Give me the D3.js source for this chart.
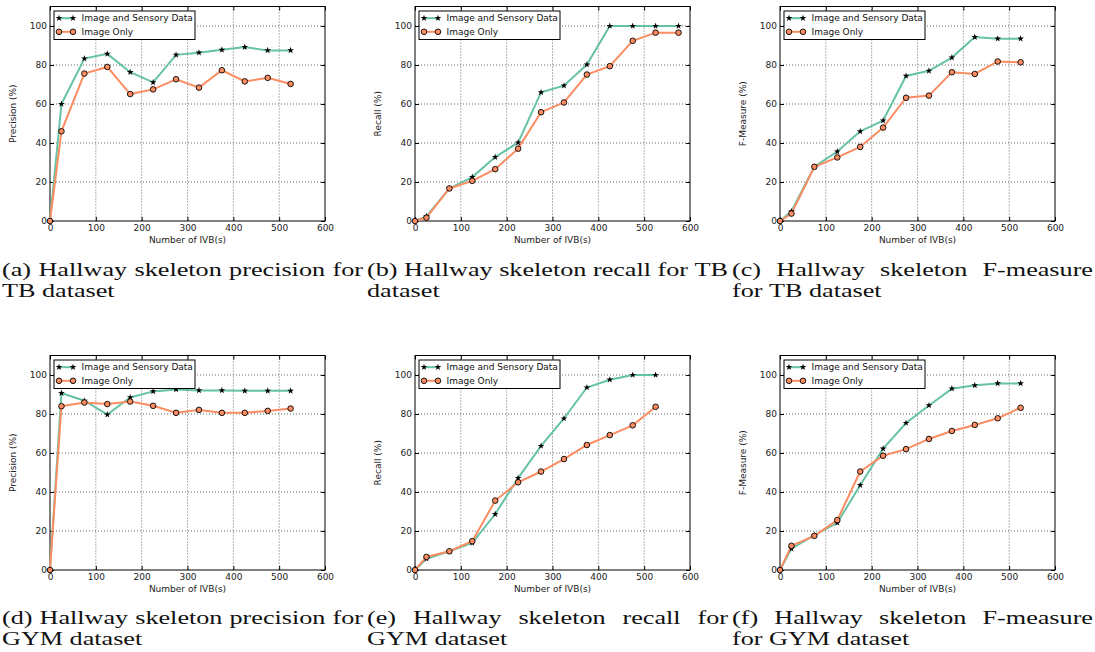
<!DOCTYPE html>
<html><head><meta charset="utf-8">
<script src="https://cdn.jsdelivr.net/npm/d3@7"></script>
<style>body{margin:0;background:#fff}svg{display:block}</style></head>
<body>
<svg id="c" width="1095" height="652"></svg>
<script>
// ---------- data ----------
const ivb = [0,25,75,125,175,225,275,325,375,425,475,525];
const ivbRecallTB = [0,25,75,125,175,225,275,325,375,425,475,525,575];
const xTicks = [0,100,200,300,400,500,600];
const yTicks = [0,20,40,60,80,100];
const seriesNames = ["Image and Sensory Data","Image Only"];

const tbPrecisionSensory = [0,60.0,83.3,85.7,76.3,71.1,85.2,86.3,87.8,89.2,87.5,87.5];
const tbPrecisionImage   = [0,46.0,75.6,79.0,65.1,67.5,72.7,68.4,77.3,71.6,73.4,70.3];
const tbRecallSensory    = [0,2.4,16.7,22.5,32.8,40.2,66.0,69.4,80.2,100,100,100,100];
const tbRecallImage      = [0,1.7,16.7,20.6,26.6,37.1,55.8,60.8,75.1,79.4,92.4,96.6,96.6];
const tbFSensory         = [0,5.0,27.8,35.6,46.0,51.5,74.4,77.0,83.8,94.3,93.5,93.5];
const tbFImage           = [0,3.8,27.8,32.6,38.0,47.9,63.2,64.3,76.3,75.4,81.8,81.4];
const gymPrecisionSensory= [0,90.7,86.8,79.7,88.5,91.6,92.6,92.1,92.1,91.9,91.9,91.9];
const gymPrecisionImage  = [0,84.0,85.9,85.1,86.4,84.2,80.6,82.1,80.6,80.6,81.6,82.8];
const gymRecallSensory   = [0,5.8,9.6,13.9,28.7,47.1,63.6,77.7,93.6,97.6,100,100];
const gymRecallImage     = [0,6.7,9.6,14.8,35.6,45.0,50.5,56.9,64.1,69.2,74.2,83.7];
const gymFSensory        = [0,11.0,17.9,24.2,43.5,62.2,75.4,84.4,93.0,94.7,95.7,95.7];
const gymFImage          = [0,12.4,17.5,25.6,50.5,58.6,62.0,67.2,71.3,74.4,77.8,83.2];

const yLabels = ["Precision (%)","Recall (%)","F-Measure (%)"];
const xLabel = "Number of IVB(s)";
const captions = [
  ["(a) Hallway skeleton precision for","TB dataset"],
  ["(b) Hallway skeleton recall for TB","dataset"],
  ["(c) Hallway skeleton F-measure","for TB dataset"],
  ["(d) Hallway skeleton precision for","GYM dataset"],
  ["(e) Hallway skeleton recall for","GYM dataset"],
  ["(f) Hallway skeleton F-measure","for GYM dataset"]
];

const panels = [
  {x: ivb, a: tbPrecisionSensory, b: tbPrecisionImage, yl: yLabels[0]},
  {x: ivbRecallTB, a: tbRecallSensory, b: tbRecallImage, yl: yLabels[1]},
  {x: ivb, a: tbFSensory, b: tbFImage, yl: yLabels[2]},
  {x: ivb, a: gymPrecisionSensory, b: gymPrecisionImage, yl: yLabels[0]},
  {x: ivb, a: gymRecallSensory, b: gymRecallImage, yl: yLabels[1]},
  {x: ivb, a: gymFSensory, b: gymFImage, yl: yLabels[2]}
];

// ---------- layout ----------
const colLeft = [50,415,780], plotW = 275;
const rowTop = [6.5,355.5], rowBot = [221,570];
const capLeft = [2,367,732], capW = 361;
const capBase = [[276,297],[624,645]];
const green = "#66c2a5", orange = "#fc8d62";
const sansFont = "DejaVu Sans, sans-serif";
const serifFont = "'Liberation Serif', serif";
const capFs = 19, capGap = 6.5;

const svg = d3.select("#c");

// horizontal stretch so the fullest caption line sets naturally (as in the reference)
const probe = svg.append("text").attr("font-family",serifFont).attr("font-size",capFs);
const refWords = captions[1][0].split(" ");
const refTotal = d3.sum(refWords, w => { probe.text(w); return probe.node().getComputedTextLength(); });
probe.remove();
const stretch = (capW - capGap * (refWords.length - 1)) / refTotal;

panels.forEach((p, i) => {
  const col = i % 3, row = Math.floor(i / 3);
  const L = colLeft[col], R = L + plotW, T = rowTop[row], B = rowBot[row];
  const x = d3.scaleLinear().domain([0,600]).range([L,R]);
  const y = d3.scaleLinear().domain([0,110]).range([B,T]);
  const g = svg.append("g");

  // grid
  g.append("g").selectAll("line").data(xTicks.filter(v => v>0 && v<600)).join("line")
    .attr("x1", d=>x(d)).attr("x2", d=>x(d)).attr("y1", T).attr("y2", B)
    .attr("stroke","#000").attr("stroke-width",0.6).attr("stroke-dasharray","1,2");
  g.append("g").selectAll("line").data(yTicks.filter(v => v>0)).join("line")
    .attr("y1", d=>y(d)).attr("y2", d=>y(d)).attr("x1", L).attr("x2", R)
    .attr("stroke","#000").attr("stroke-width",0.6).attr("stroke-dasharray","1,2");

  // axes (ticks inward, on all sides)
  const axB = g.append("g").attr("transform",`translate(0,${B})`)
    .call(d3.axisBottom(x).tickValues(xTicks).tickSize(-4).tickPadding(4).tickFormat(d3.format("d")));
  const axT = g.append("g").attr("transform",`translate(0,${T})`)
    .call(d3.axisTop(x).tickValues(xTicks).tickSize(-4).tickFormat(""));
  const axL = g.append("g").attr("transform",`translate(${L},0)`)
    .call(d3.axisLeft(y).tickValues(yTicks).tickSize(-4).tickPadding(3).tickFormat(d3.format("d")));
  const axR = g.append("g").attr("transform",`translate(${R},0)`)
    .call(d3.axisRight(y).tickValues(yTicks).tickSize(-4).tickFormat(""));
  [axB,axT,axL,axR].forEach(a => {
    a.select(".domain").remove();
    a.selectAll("text").attr("font-family",sansFont).attr("font-size",9).attr("fill","#222");
    a.selectAll("line").attr("stroke","#000");
  });

  // frame
  g.append("rect").attr("x",L).attr("y",T).attr("width",R-L).attr("height",B-T)
    .attr("fill","none").attr("stroke","#000").attr("stroke-width",1);

  const line = d3.line().x(d=>x(d[0])).y(d=>y(d[1]));
  const dA = p.x.map((v,k)=>[v,p.a[k]]);
  const dB = p.x.map((v,k)=>[v,p.b[k]]);
  const star = d3.symbol().type(d3.symbolStar).size(14);

  g.append("path").datum(dA).attr("d",line).attr("fill","none").attr("stroke",green).attr("stroke-width",2);
  g.append("path").datum(dB).attr("d",line).attr("fill","none").attr("stroke",orange).attr("stroke-width",2);
  g.append("g").selectAll("path").data(dA).join("path")
    .attr("d",star).attr("transform",d=>`translate(${x(d[0])},${y(d[1])})`).attr("fill","#000");
  g.append("g").selectAll("circle").data(dB).join("circle")
    .attr("cx",d=>x(d[0])).attr("cy",d=>y(d[1])).attr("r",2.8)
    .attr("fill",orange).attr("stroke","#000").attr("stroke-width",0.9);

  // legend
  const lg = g.append("g");
  lg.append("rect").attr("x",L+4).attr("y",T+4.5).attr("width",141).attr("height",28.5)
    .attr("fill","#fff").attr("stroke","#000").attr("stroke-width",1);
  [[green,T+11.7,"a"],[orange,T+25.3,"b"]].forEach(([c,yy,kind],k) => {
    lg.append("line").attr("x1",L+9).attr("x2",L+23).attr("y1",yy).attr("y2",yy)
      .attr("stroke",c).attr("stroke-width",2);
    [L+9,L+23].forEach(xx => {
      if (kind==="a") lg.append("path").attr("d",star).attr("transform",`translate(${xx},${yy})`).attr("fill","#000");
      else lg.append("circle").attr("cx",xx).attr("cy",yy).attr("r",2.8).attr("fill",orange).attr("stroke","#000").attr("stroke-width",0.9);
    });
    lg.append("text").attr("x",L+31.5).attr("y",yy).attr("dy","0.35em")
      .attr("font-family",sansFont).attr("font-size",9).attr("fill","#111").text(seriesNames[k]);
  });

  // axis labels
  g.append("text").attr("x",(L+R)/2).attr("y",B+18.5).attr("dy","0.35em").attr("text-anchor","middle")
    .attr("font-family",sansFont).attr("font-size",9).attr("fill","#222").text(xLabel);
  g.append("text").attr("transform",`translate(${L-37},${(T+B)/2}) rotate(-90)`).attr("dy","0.35em")
    .attr("text-anchor","middle").attr("font-family",sansFont).attr("font-size",9).attr("fill","#222").text(p.yl);

  // caption (first line justified to the column width)
  const cg = svg.append("g");
  captions[i].forEach((ln, li) => {
    const words = ln.split(" ");
    const base = capBase[row][li];
    const nodes = words.map(w => {
      const t = cg.append("text").attr("y",base).attr("font-family",serifFont)
        .attr("font-size",capFs).attr("fill","#111").text(w);
      const nw = t.node().getComputedTextLength() * stretch;
      t.attr("textLength",nw).attr("lengthAdjust","spacingAndGlyphs");
      return {t, w: nw};
    });
    const total = d3.sum(nodes, n=>n.w);
    const gap = li === 0 ? Math.max(3, (capW - total) / (nodes.length - 1)) : capGap;
    let cx = capLeft[col];
    nodes.forEach(n => { n.t.attr("x",cx); cx += n.w + gap; });
  });
});
</script>
</body></html>
